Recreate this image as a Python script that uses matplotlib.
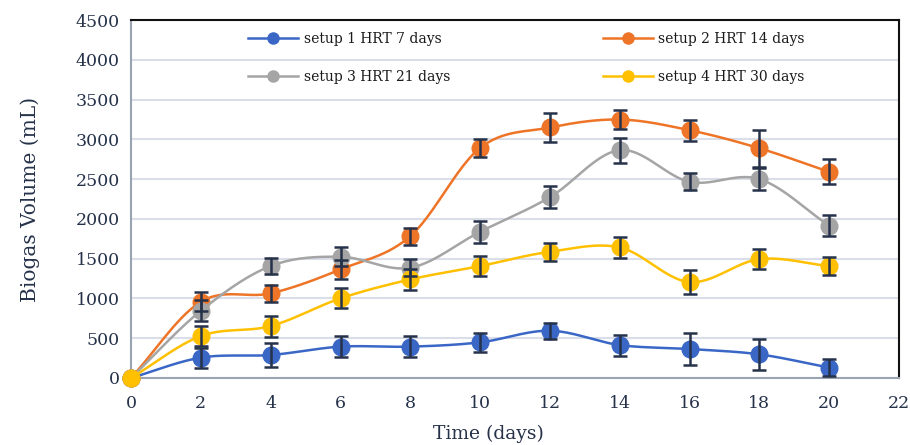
import numpy as np
import matplotlib
matplotlib.use("Agg")
import matplotlib.pyplot as plt
from matplotlib.lines import Line2D

plt.rcParams['font.family'] = ['DejaVu Serif']

days = [0, 2, 4, 6, 8, 10, 12, 14, 16, 18, 20]

setup1 = [0, 256, 289, 394, 394, 448, 594, 414, 364, 297, 130]
setup1_err = [0, 126, 153, 128, 128, 119, 100, 132, 199, 193, 109]

setup2 = [0, 958, 1064, 1365, 1783, 2893, 3149, 3249, 3115, 2888, 2591]
setup2_err = [0, 120, 109, 120, 105, 109, 182, 121, 134, 230, 157]

setup3 = [0, 845, 1407, 1524, 1386, 1838, 2273, 2864, 2466, 2500, 1913]
setup3_err = [0, 130, 102, 121, 110, 140, 140, 157, 109, 142, 130]

setup4 = [0, 527, 653, 1001, 1239, 1407, 1587, 1641, 1206, 1494, 1407]
setup4_err = [0, 130, 132, 126, 132, 130, 115, 128, 146, 130, 110]

labels = ["setup 1 HRT 7 days", "setup 2 HRT 14 days",
          "setup 3 HRT 21 days", "setup 4 HRT 30 days"]
colors = ["#3a67c6", "#ee7427", "#a5a5a5", "#ffc000"]

ink = "#26324a"


def smooth(x, y, n=30):
    # catmull-rom curve through the points, like a spreadsheet "smoothed line"
    x = np.asarray(x, float)
    y = np.asarray(y, float)
    px = np.concatenate([[2 * x[0] - x[1]], x, [2 * x[-1] - x[-2]]])
    py = np.concatenate([[2 * y[0] - y[1]], y, [2 * y[-1] - y[-2]]])
    xs, ys = [], []
    t = np.linspace(0, 1, n)
    for i in range(1, len(px) - 2):
        for p, out in ((px, xs), (py, ys)):
            p0, p1, p2, p3 = p[i - 1], p[i], p[i + 1], p[i + 2]
            out.extend(0.5 * ((2 * p1) + (-p0 + p2) * t
                              + (2 * p0 - 5 * p1 + 4 * p2 - p3) * t ** 2
                              + (-p0 + 3 * p1 - 3 * p2 + p3) * t ** 3))
    return xs, ys


fig = plt.figure(figsize=(9.1, 4.45), dpi=100)
ax = fig.add_axes([0.144, 0.1506, 0.844, 0.8044])

series = [(setup1, setup1_err), (setup2, setup2_err),
          (setup3, setup3_err), (setup4, setup4_err)]
for k, (vals, err) in enumerate(series):
    sx, sy = smooth(days, vals)
    ax.plot(sx, sy, color=colors[k], lw=1.8, zorder=3 + k)
    ax.plot(days, vals, 'o', color=colors[k], ms=12, zorder=3 + k,
            clip_on=False)
    ax.errorbar(days[1:], vals[1:], yerr=err[1:], fmt='none', ecolor=ink,
                elinewidth=1.8, capsize=5, capthick=1.8, zorder=8)

ax.set_xlim(0, 22)
ax.set_ylim(0, 4500)
ax.set_xticks(range(0, 23, 2))
ax.set_yticks(range(0, 4501, 500))
ax.yaxis.grid(True, color="#d9dee8", lw=1.5)
ax.set_axisbelow(True)
ax.tick_params(length=0, labelsize=12.5, colors=ink, pad=8)
ax.tick_params(axis='x', pad=12)

for s in ('left', 'bottom'):
    ax.spines[s].set_color("#9aa3b2")
    ax.spines[s].set_linewidth(1.5)
for s in ('top', 'right'):
    ax.spines[s].set_color("#111111")
    ax.spines[s].set_linewidth(1.5)

ax.set_ylabel("Biogas Volume (mL)", fontsize=14.5, color=ink, labelpad=10)
ax.yaxis.set_label_coords(-0.118, 0.5)
ax.set_xlabel("Time (days)", fontsize=13.5, color=ink, labelpad=4)
ax.xaxis.set_label_coords(0.465, -0.13)

handles = [Line2D([], [], color=c, lw=1.8, marker='o', ms=8) for c in colors]
order = [0, 2, 1, 3]
leg = ax.legend([handles[i] for i in order], [labels[i] for i in order],
                ncol=2, frameon=False, loc='upper left',
                bbox_to_anchor=(0.137, 1.0), fontsize=10, handlelength=3.6,
                columnspacing=11.0, labelspacing=1.75, handletextpad=0.4,
                borderaxespad=0.45)
for t in leg.get_texts():
    t.set_color("#1a1a1a")

fig.savefig("out.png", dpi=100)
